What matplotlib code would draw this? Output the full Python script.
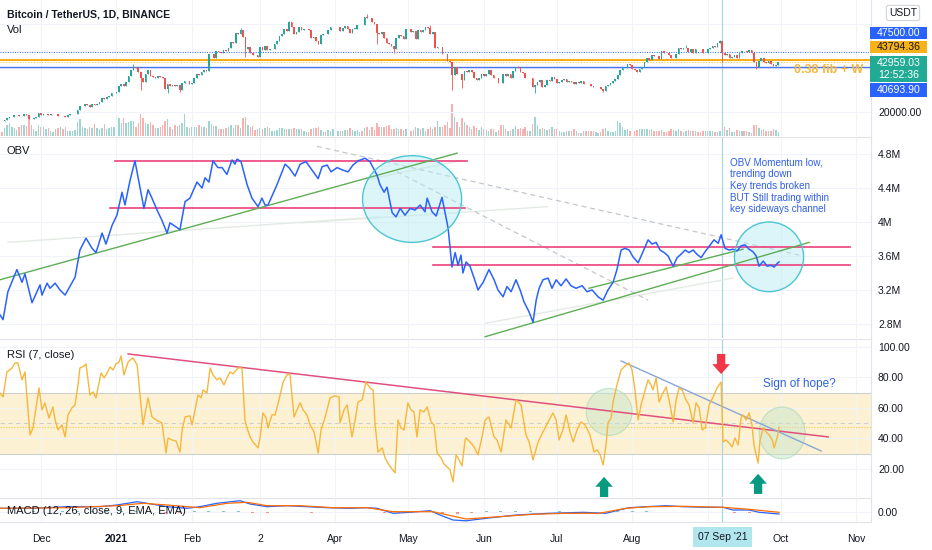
import numpy as np
import pandas as pd
import matplotlib
matplotlib.use("Agg")
import matplotlib.pyplot as plt
from matplotlib.patches import Ellipse, FancyArrow, Rectangle

plt.rcParams["font.family"] = ["Liberation Sans", "DejaVu Sans"]

# ── 가격 데이터 (BTCUSDT 일봉 종가, 2020-11-14 ~ 2021-09-30) ──
close_nov = [15970, 15960, 16720, 17650, 17800, 17820, 18660, 18700, 18420, 18370, 19150, 18720, 17150, 17140, 17720, 18180, 19700]
close_dec = [18790, 19200, 19420, 18650, 19150, 19360, 19170, 18320, 18550, 18250, 18040, 18800, 19170, 19270, 19430, 21350,
             22800, 23110, 23850, 23480, 22720, 23820, 23250, 23720, 24710, 26490, 26280, 27080, 27370, 28880, 28920]
close_jan = [29330, 32180, 33000, 31990, 33950, 36770, 39410, 40670, 40240, 38240, 35540, 34010, 37390, 39140, 36770, 36020,
             35820, 36630, 36020, 35550, 30830, 33000, 32100, 32280, 32270, 32520, 30430, 33470, 34320, 34320, 33090]
close_feb = [33530, 35510, 37670, 36900, 38290, 39190, 38800, 46380, 46430, 44850, 48010, 47410, 47230, 48590, 47910, 49130,
             52120, 51550, 55910, 55860, 57410, 54100, 48890, 49680, 47030, 46280, 46100, 45140]
close_mar = [49590, 48440, 50350, 48370, 48750, 48880, 50970, 52380, 54880, 55860, 57800, 57230, 61190, 59000, 55630, 56800,
             58870, 57650, 58030, 58100, 57350, 54080, 54340, 52300, 51290, 55030, 55820, 55780, 57630, 58730, 58740]
close_apr = [58720, 58970, 57060, 58200, 59130, 57990, 56000, 58090, 58140, 59770, 59860, 59850, 63580, 62960, 63160, 61330,
             60010, 56150, 55660, 56470, 53800, 51700, 51190, 50100, 49060, 54030, 55070, 54880, 53580, 57750]
close_may = [57830, 56630, 57200, 53240, 57500, 56430, 57380, 58930, 58280, 55860, 56750, 49500, 49690, 49890, 46760, 46430,
             43540, 42900, 36970, 40600, 37300, 37530, 34770, 38820, 38340, 39240, 38530, 35660, 34610, 35680, 37300]
close_jun = [36690, 37570, 39190, 36880, 35520, 35800, 33590, 33400, 37390, 36690, 37340, 35550, 39020, 40530, 40140, 38350,
             38090, 35820, 35480, 35600, 31610, 32510, 33680, 34660, 31590, 32280, 34700, 34490, 35910, 35040]
close_jul = [33520, 33810, 34670, 35290, 33690, 34220, 33880, 32880, 33820, 33520, 34260, 33090, 32730, 32820, 31880, 31380,
             31520, 31780, 30840, 29790, 32140, 32310, 33580, 34290, 35380, 37270, 39460, 40000, 40020, 42240, 41460]
close_aug = [39850, 39150, 38210, 39720, 40870, 42840, 44610, 43820, 46290, 45600, 45560, 44430, 47830, 47100, 47020, 45940,
             44690, 44720, 46760, 49340, 48870, 49290, 49530, 47710, 48970, 46840, 49070, 48900, 48810, 46990, 47170]
close_sep = [48850, 49280, 50000, 49940, 51770, 52660, 46860, 46070, 46370, 44840, 45160, 46030, 44960, 47110, 48140, 47760,
             47300, 48310, 47260, 42990, 40690, 43580, 44880, 42810, 42700, 43210, 42240, 41040, 41560, 42959.03]
first_open = 16300

wick_low = {"2021-01-11": 30420, "2021-01-22": 28850, "2021-01-27": 29240, "2021-02-23": 45000, "2021-04-18": 51000,
            "2021-04-25": 47050, "2021-05-19": 30000, "2021-05-23": 31100, "2021-06-22": 28800, "2021-07-20": 29280,
            "2021-09-07": 42830, "2021-09-21": 39600}
wick_high = {"2021-01-08": 41950, "2021-02-21": 58350, "2021-03-13": 61780, "2021-04-14": 64850, "2021-05-10": 59600,
             "2021-09-06": 52920, "2021-06-15": 41330, "2021-08-23": 50500}

# 거래량 (천 BTC)
vol_nov = [42, 38, 65, 90, 110, 80, 70, 50, 80, 95, 95, 85, 140, 90, 55, 45, 95]
vol_dec = [80, 78, 60, 70, 45, 35, 55, 70, 80, 60, 75, 40, 40, 45, 50, 115, 140, 75, 65, 60, 75, 70, 100, 70, 60, 65, 100, 60, 70, 80, 75]
vol_jan = [80, 150, 110, 150, 110, 120, 130, 130, 80, 110, 190, 150, 110, 100, 120, 90, 70, 70, 75, 95, 130, 140, 80, 55, 90, 85, 95, 110, 190, 75, 70]
vol_feb = [75, 75, 80, 90, 75, 75, 65, 130, 100, 85, 85, 60, 60, 55, 70, 80, 90, 65, 90, 95, 70, 150, 160, 90, 75, 85, 50, 60]
vol_mar = [70, 60, 65, 80, 70, 40, 40, 50, 65, 65, 60, 60, 60, 55, 70, 55, 60, 55, 45, 30, 35, 55, 65, 70, 80, 50, 30, 35, 50, 45, 60]
vol_apr = [55, 45, 45, 40, 50, 50, 70, 50, 45, 50, 35, 45, 70, 75, 50, 80, 50, 110, 75, 75, 80, 85, 95, 55, 60, 70, 55, 55, 50, 60]
vol_may = [35, 40, 50, 80, 70, 60, 65, 45, 55, 80, 60, 80, 130, 80, 75, 90, 120, 70, 270, 160, 120, 80, 150, 120, 90, 75, 60, 85, 65, 50, 75]
vol_jun = [60, 50, 45, 60, 55, 30, 50, 90, 95, 55, 45, 40, 55, 85, 60, 65, 55, 80, 45, 45, 100, 160, 95, 60, 65, 60, 50, 55, 75, 55]
vol_jul = [55, 45, 35, 30, 45, 40, 40, 55, 45, 25, 25, 40, 40, 40, 40, 40, 30, 25, 35, 55, 70, 45, 35, 30, 45, 125, 110, 80, 50, 60, 45]
vol_aug = [45, 45, 50, 55, 60, 60, 55, 50, 55, 45, 40, 45, 50, 35, 35, 45, 55, 50, 45, 55, 40, 30, 45, 50, 45, 40, 40, 30, 30, 45, 40]
vol_sep = [45, 45, 45, 30, 30, 45, 105, 75, 50, 65, 30, 30, 50, 45, 45, 40, 40, 30, 25, 90, 95, 65, 50, 60, 45, 45, 45, 60, 50, 35]

# OBV (일 = 2020-12-01 기준 경과일, 값 = 백만)
obv_day = [-16.9, -15.6, -13.6, -9.9, -7.8, -6.6, -3.7, -0.4, 0.4, 2.5, 3.7, 5.8, 7.8, 9.9, 14.0, 16.0, 18.5, 21.0, 22.6,
           25.1, 26.7, 29.2, 31.2, 33.3, 34.5, 36.6, 38.6, 42.3, 44.0, 45.6, 47.7, 49.7, 51.8, 53.0, 55.1, 57.1, 59.2, 61.2,
           64.1, 66.2, 67.4, 69.0, 70.7, 72.7, 74.4, 76.4, 78.5, 79.7, 80.6, 82.2, 84.7, 86.7, 89.2, 90.8, 92.1, 93.3, 97.0,
           100.3, 101.9, 104.4, 106.5, 108.9, 111.4, 113.9, 115.5, 117.6, 119.2, 121.7, 124.1, 126.2, 128.2, 130.3, 133.2,
           135.2, 138.1, 139.3, 141.0, 142.2, 144.3, 145.9, 147.6, 149.6, 151.7, 153.7, 155.8, 157.8, 158.7, 160.7, 162.4,
           164.8, 167.3, 168.9, 170.2, 171.4, 172.6, 173.4, 174.7, 176.3, 178.0, 179.6, 181.7, 184.1, 186.2, 187.8, 189.9,
           191.5, 193.2, 195.2, 196.9, 198.5, 200.6, 202.2, 203.5, 204.7, 206.3, 208.4, 210.0, 211.7, 213.7, 215.8, 217.8,
           219.9, 222.4, 224.4, 226.5, 228.9, 231.0, 233.0, 235.1, 236.7, 238.4, 240.0, 241.7, 243.3, 245.4, 247.4, 249.5,
           251.1, 252.8, 254.4, 256.1, 257.7, 259.8, 261.4, 263.0, 264.7, 266.3, 268.0, 269.6, 271.3, 272.9, 275.0, 276.6,
           278.3, 279.5, 281.1, 282.8, 284.4, 286.1, 287.7, 289.3, 291.0, 292.6, 293.9, 295.1, 296.8, 298.4, 300.0, 301.3,
           302.5, 303.3]
obv_val = [2.91, 2.85, 3.18, 3.44, 3.29, 3.39, 3.05, 3.26, 3.14, 3.28, 3.22, 3.28, 3.20, 3.14, 3.35, 3.67, 3.81, 3.69, 3.64,
           3.87, 3.74, 3.96, 4.08, 4.35, 4.20, 4.49, 4.72, 4.16, 4.38, 4.28, 4.14, 4.02, 3.87, 3.99, 3.95, 3.91, 4.24, 4.28,
           4.47, 4.40, 4.52, 4.47, 4.72, 4.64, 4.64, 4.56, 4.73, 4.68, 4.74, 4.71, 4.44, 4.28, 4.18, 4.28, 4.20, 4.20, 4.44,
           4.68, 4.64, 4.54, 4.68, 4.71, 4.61, 4.51, 4.65, 4.67, 4.59, 4.64, 4.61, 4.59, 4.67, 4.72, 4.75,
           4.71, 4.55, 4.44, 4.35, 4.41, 4.11, 4.06, 4.16, 4.08, 4.16, 4.14, 4.20, 4.12, 4.28, 4.12, 4.07,
           4.29, 3.93, 3.47, 3.64, 3.49, 3.61, 3.40, 3.53, 3.48, 3.34, 3.20, 3.29, 3.44, 3.32, 3.20, 3.12,
           3.24, 3.18, 3.32, 3.20, 3.06, 2.94, 2.82, 3.08, 3.22, 3.32, 3.34, 3.22, 3.32, 3.25, 3.33, 3.25,
           3.22, 3.25, 3.18, 3.20, 3.12, 3.08, 3.20, 3.29, 3.44, 3.67, 3.69, 3.67, 3.59, 3.52, 3.65, 3.79,
           3.74, 3.76, 3.67, 3.64, 3.60, 3.48, 3.58, 3.62, 3.67, 3.64, 3.67, 3.62, 3.58, 3.65, 3.73, 3.79,
           3.75, 3.85, 3.69, 3.67, 3.68, 3.66, 3.72, 3.73, 3.68, 3.65, 3.60, 3.48, 3.54, 3.48, 3.49, 3.47,
           3.51, 3.53]

# RSI (7, close)
rsi_day = [-16.9, -15.6, -14.0, -11.9, -10.7, -9.5, -7.8, -6.6, -4.5, -3.3, -2.5, -0.8, 0.4, 1.6, 3.3, 4.9, 5.8, 7.0, 8.6,
           9.9, 11.1, 12.7, 14.0, 15.2, 16.0, 17.7, 18.5, 20.1, 21.4, 22.6, 24.7, 25.9, 26.7, 28.4, 29.6, 30.8, 32.1, 32.9,
           34.1, 35.8, 37.8, 39.5, 40.7, 41.9, 44.0, 45.6, 47.3, 48.9, 49.7, 51.4, 52.2, 53.8, 55.5, 57.1, 58.0, 59.2, 61.2,
           62.1, 63.3, 64.5, 65.8, 66.6, 68.2, 69.5, 70.7, 72.3, 73.6, 75.2, 76.4, 77.7, 78.9, 81.0, 82.6, 83.8, 84.7, 85.9,
           87.1, 89.2, 90.0, 91.2, 92.5, 93.3, 94.9, 96.2, 97.8, 99.5, 101.1, 102.3, 104.0, 105.2, 106.5, 107.7, 109.3,
           110.6, 112.2, 113.9, 115.1, 116.7, 118.8, 120.8, 122.5, 122.9, 124.5, 125.8, 127.8, 129.1, 130.3, 131.9, 133.6,
           135.2, 136.5, 137.3, 138.5, 140.2, 141.4, 143.0, 145.5, 146.7, 147.9, 149.2, 150.8, 152.1, 153.3, 154.5, 155.8,
           157.4, 158.7, 160.3, 161.5, 162.8, 164.4, 165.6, 167.3, 168.1, 169.3, 170.6, 171.8, 173.0, 174.3, 174.7, 176.7,
           178.0, 179.6, 181.7, 182.5, 184.1, 186.2, 187.4, 189.1, 191.1, 192.4, 193.2, 195.2, 197.3, 199.3, 200.6, 202.2,
           204.3, 206.3, 208.4, 210.4, 211.7, 212.9, 214.5, 215.8, 217.4, 218.7, 220.3, 221.9, 223.6, 225.6, 227.3, 228.5,
           229.8, 231.0, 232.2, 233.0, 234.3, 235.1, 236.7, 238.4, 240.0, 241.7, 242.9, 244.1, 245.4, 246.6, 248.3, 249.5,
           250.7, 251.5, 252.8, 254.0, 255.2, 256.9, 258.1, 259.8, 261.0, 262.2, 263.5, 265.1, 266.3, 268.0, 269.2, 270.5,
           271.7, 273.0, 274.6, 276.2, 277.8, 279.5, 280.3, 281.5, 282.8, 284.0, 285.2, 286.5, 287.7, 288.5, 289.8, 291.0,
           292.2, 293.0, 293.9, 294.7, 295.5, 296.8, 298.0, 299.2, 300.5, 301.3, 302.5, 303.3]
rsi_val = [69.8, 67.2, 83.6, 86.2, 89.5, 89.5, 78.4, 83.6, 42.3, 46.9, 55.4, 73.1, 58.7, 63.3, 53.4, 60.7, 52.1, 45.6, 48.9,
           41.0, 55.4, 60.0, 62.0, 75.1, 86.2, 87.5, 88.9, 68.5, 70.5, 66.6, 83.0, 79.7, 81.6, 86.9, 84.9, 88.9, 90.2, 94.1,
           81.6, 90.2, 92.8, 88.2, 68.5, 48.9, 66.6, 54.1, 52.1, 50.8, 50.2, 30.5, 40.3, 39.0, 38.4, 31.1, 45.6, 54.1, 54.8,
           48.9, 58.7, 68.5, 66.6, 71.8, 69.8, 86.2, 81.6, 78.4, 79.7, 75.1, 79.7, 83.6, 82.3, 86.2, 86.2, 52.1, 46.9, 41.0,
           37.7, 33.8, 40.3, 56.7, 53.4, 46.9, 55.4, 55.4, 65.2, 77.0, 81.6, 82.3, 54.1, 58.7, 63.3, 58.7, 55.4,
           48.9, 44.3, 30.5, 45.6, 53.4, 66.6, 67.9, 67.2, 50.2, 58.7, 62.0, 41.0, 52.1, 63.9, 65.2, 77.0,
           73.1, 71.8, 48.9, 31.1, 33.8, 27.2, 22.6, 17.4, 52.1, 46.9, 45.6, 63.3, 58.7, 57.4, 41.0, 58.7,
           57.4, 60.7, 50.8, 48.9, 30.5, 27.2, 23.3, 20.7, 19.3, 11.5, 29.2, 25.9, 22.0, 39.0, 40.3, 37.0,
           34.4, 29.2, 44.3, 52.1, 54.1, 41.0, 39.0, 31.1, 52.1, 48.9, 46.9, 65.2, 62.0, 42.3, 37.7, 25.9,
           37.7, 44.3, 50.8, 56.7, 52.1, 39.0, 45.6, 55.4, 44.3, 37.7, 45.6, 50.8, 48.9, 42.3, 31.1, 32.5,
           29.2, 22.6, 35.7, 50.2, 53.4, 63.9, 75.1, 84.9, 87.5, 89.5, 84.9, 71.8, 52.1, 62.0, 71.8, 78.4,
           75.1, 71.8, 79.7, 63.9, 68.5, 73.8, 65.2, 50.8, 65.2, 73.1, 71.8, 65.2, 62.0, 50.2, 63.3, 60.0,
           45.6, 46.9, 62.0, 67.2, 73.1, 77.0, 37.7, 39.0, 37.0, 34.4, 40.3, 35.7, 53.4, 55.4, 52.1, 56.7,
           48.9, 35.7, 29.2, 23.9, 39.0, 46.9, 44.3, 42.3, 39.0, 33.8, 40.3, 47.5]

# MACD (12, 26, close, 9)
macd_day = [-16.9, -3.3, 10.7, 24.2, 31.2, 39.5, 43.6, 51.8, 60.0, 65.3, 72.3, 81.8, 85.9, 92.9, 101.1, 109.3, 117.6, 127.0,
            134.0, 138.1, 144.7, 151.7, 159.9, 164.0, 169.3, 174.7, 182.9, 195.2, 208.8, 222.8, 232.2, 237.6, 241.7, 248.7,
            256.9, 263.9, 273.3, 280.3, 284.4, 291.0, 295.1, 303.3]
macd_val = [1850, 1850, 2650, 2650, 3500, 5150, 4350, 2650, 1850, 2650, 4350, 5650, 4000, 2650, 3150, 2650, 2150, 1850,
            2150, 1850, -650, -150, 650, -1500, -4000, -4400, -3150, -1500, -650, -150, -650, 1000, 2150, 2650,
            3150, 2650, 2350, 2350, 1000, 1000, -150, -1000]
signal_day = [-16.9, 10.7, 31.2, 41.9, 51.8, 65.3, 76.4, 84.7, 92.9, 106.5, 120.0, 134.0, 144.7, 161.1, 174.7, 188.3,
              202.2, 215.8, 229.4, 240.4, 249.9, 263.9, 280.3, 291.0, 303.3]
signal_val = [1850, 2150, 3150, 4350, 3500, 2150, 4350, 4850, 3150, 3150, 2150, 2150, 150, 150, -3500, -2350,
              -1150, -650, -650, 1850, 2650, 2850, 2350, 1350, -150]
hist_day = list(range(-15, 304, 6))
hist_val = [0, 200, 300, 200, 300, 500, 400, 300, 500, 700, -200, -600, -500, 300, 600, 400, 600, -500, -500, 200,
            100, -300, -200, 200, -100, 100, -400, -600, 300, 400, -800, -1200, -600, 300, 500, 500, 400, 200, 300, 100,
            -100, -300, 600, 700, 300, 200, -100, -200, 100, 200, -500, -300, -300, -200]

# 레벨 / 드로잉
price_levels = {"fib": 43794.36, "top": 47500.00, "low": 40693.90}
obv_pink = [((30.4, 4.72), (175.1, 4.72)), ((28.4, 4.16), (174.3, 4.16)),
            ((161.1, 3.71), (332.5, 3.71)), ((161.1, 3.49), (332.5, 3.49))]
obv_green = [((-16.9, 3.32), (171.0, 4.81)), ((182.5, 2.65), (315.7, 3.76)), ((225.2, 3.22), (288.5, 3.68))]
obv_dashed = [((113.4, 4.89), (311.6, 3.61)), ((146.3, 4.59), (249.5, 3.08))]
obv_faint = [((-13.6, 3.76), (139.3, 4.06)), ((106.5, 3.99), (208.0, 4.18)), ((182.9, 2.81), (284.4, 3.34)),
             ((134.0, 4.50), (172.0, 4.72))]
obv_circles = [(152.5, 4.27, 40.7, 1.02), (299.2, 3.59, 28.4, 0.82)]
rsi_pink = ((35.8, 95.4), (323.5, 41.0))
rsi_blue = ((238.4, 90.8), (320.6, 31.8))
rsi_circles = [(233.5, 57.4, 18.9, 30.8), (304.6, 43.6, 18.9, 34.0)]
up_arrows = [(231.4, 1.6), (294.7, 3.6)]
down_arrows = [(279.5, 95.4)]
cursor_day = 280

month_days = [0, 31, 62, 90, 121, 151, 182, 212, 243, 274, 304, 335]
month_labels = ["Dec", "2021", "Feb", "2", "Apr", "May", "Jun", "Jul", "Aug", "", "Oct", "Nov"]

# ── 그리기 ──
W, H, PLOT_W = 932, 550, 871
TXT = "#131722"
GRID = "#f0f3fa"
SEP = "#e0e3eb"
UP, DN = "#26a69a", "#ef5350"
XL = (-16.85, 341.1)


def rect(top, bottom):
    return [0, 1 - bottom / H, PLOT_W / W, (bottom - top) / H]


def style(ax, yt, ylab, top_sep=True):
    ax.set_xlim(*XL)
    ax.set_xticks(month_days)
    ax.tick_params(axis="x", length=0, labelbottom=False)
    ax.yaxis.tick_right()
    ax.set_yticks(yt)
    ax.set_yticklabels(ylab)
    ax.tick_params(axis="y", length=0, pad=5, labelsize=7.5, colors=TXT)
    ax.grid(True, color=GRID, lw=0.8)
    ax.set_axisbelow(True)
    for s in ax.spines.values():
        s.set_visible(False)
    ax.spines["right"].set_visible(True)
    ax.spines["right"].set_color(SEP)
    if top_sep:
        ax.spines["top"].set_visible(True)
        ax.spines["top"].set_color(SEP)
    ax.axvline(cursor_day, color="#9fd9e6", lw=0.8, zorder=1)


def seg(ax, pts, **kw):
    (x0, y0), (x1, y1) = pts
    ax.plot([x0, x1], [y0, y1], **kw)


fig = plt.figure(figsize=(W / 100, H / 100), dpi=100, facecolor="white")

closes = np.array(close_nov + close_dec + close_jan + close_feb + close_mar + close_apr +
                  close_may + close_jun + close_jul + close_aug + close_sep, dtype=float)
vols = np.array(vol_nov + vol_dec + vol_jan + vol_feb + vol_mar + vol_apr +
                vol_may + vol_jun + vol_jul + vol_aug + vol_sep, dtype=float)
dates = pd.date_range("2020-11-14", periods=len(closes), freq="D")
days = (dates - pd.Timestamp("2020-12-01")).days.values
opens = np.concatenate([[first_open], closes[:-1]])
highs = np.maximum(opens, closes)
lows = np.minimum(opens, closes)
for d, v in wick_low.items():
    lows[dates.get_loc(pd.Timestamp(d))] = v
for d, v in wick_high.items():
    highs[dates.get_loc(pd.Timestamp(d))] = v
cols = np.where(closes >= opens, UP, DN)

# 거래량 (가격 패널 아래에 겹침)
ax_v = fig.add_axes(rect(0, 136))
ax_v.bar(days, vols, width=0.6, color=cols, alpha=0.45, lw=0)
ax_v.set_xlim(*XL)
ax_v.set_ylim(0, 1150)
ax_v.axis("off")

# 가격
ax_p = fig.add_axes(rect(0, 136))
ax_p.patch.set_alpha(0)
style(ax_p, [20000, 40000, 60000], ["20000.00", "", ""], top_sep=False)
ax_p.set_ylim(9318, 71136)
ax_p.vlines(days, lows, highs, colors=cols, lw=0.6, zorder=3)
ax_p.bar(days, np.maximum(np.abs(closes - opens), 120), bottom=np.minimum(opens, closes),
         width=0.7, color=cols, lw=0, zorder=4)
ax_p.axhline(price_levels["top"], color="#2962ff", lw=0.7, ls=(0, (1, 1.5)), zorder=2)
ax_p.axhline(price_levels["fib"], color="#f7a600", lw=1.3, zorder=2)
ax_p.axhline(closes[-1], color="#f7c948", lw=0.8, ls=(0, (1, 1.5)), zorder=2)
ax_p.axhline(price_levels["low"], color="#4a74f0", lw=1.0, zorder=2)
ax_p.text(0.008, 0.895, "Bitcoin / TetherUS, 1D, BINANCE", transform=ax_p.transAxes,
          fontsize=7.6, fontweight="bold", color=TXT, va="center")
ax_p.text(0.008, 0.78, "Vol", transform=ax_p.transAxes, fontsize=8, color=TXT, va="center")
ax_p.text(309.5, 39300, "0.38 fib + W", fontsize=9, fontweight="bold", color="#f5b83d",
          va="center", ha="left", zorder=6, clip_on=False)

# OBV
ax_o = fig.add_axes(rect(137, 338))
style(ax_o, [2.8, 3.2, 3.6, 4.0, 4.4, 4.8], ["2.8M", "3.2M", "3.6M", "4M", "4.4M", "4.8M"])
ax_o.set_ylim(2.635, 5.0)
for p in obv_faint:
    seg(ax_o, p, color="#e4ebe4", lw=1.0, zorder=2)
for p in obv_dashed:
    seg(ax_o, p, color="#c3c6cd", lw=0.9, ls=(0, (4, 3)), zorder=2)
for cx, cy, w, h in obv_circles:
    ax_o.add_patch(Ellipse((cx, cy), w, h, facecolor="#b2ebf2", alpha=0.45, edgecolor="none", zorder=2))
    ax_o.add_patch(Ellipse((cx, cy), w, h, facecolor="none", edgecolor="#4cc6d2", lw=1.0, zorder=5))
for p in obv_pink:
    seg(ax_o, p, color="#ec407a", lw=1.2, zorder=3)
for p in obv_green:
    seg(ax_o, p, color="#5fad56", lw=1.0, zorder=3)
ax_o.plot(obv_day, obv_val, color="#2962ff", lw=1.1, zorder=4)
ax_o.text(0.008, 0.93, "OBV", transform=ax_o.transAxes, fontsize=8, color=TXT, va="center")
ax_o.text(283.2, 4.76, "OBV Momentum low,\ntrending down\nKey trends broken\nBUT Still trading within\nkey sideways channel",
          fontsize=7.1, color="#2f5fe6", va="top", ha="left", linespacing=1.22, zorder=6)

# RSI
ax_r = fig.add_axes(rect(339, 497))
style(ax_r, [20, 40, 60, 80, 100], ["20.00", "40.00", "60.00", "80.00", "100.00"])
ax_r.set_ylim(1.6, 105.2)
ax_r.axhspan(30, 70, color="#fdf1d3", zorder=0.5, lw=0)
ax_r.axhline(70, color="#cfcfcf", lw=0.8, zorder=1)
ax_r.axhline(30, color="#cfcfcf", lw=0.8, zorder=1)
ax_r.axhline(50, color="#cfcfcf", lw=0.8, ls=(0, (4, 3)), zorder=1)
ax_r.axhline(rsi_val[-1], color="#f7c948", lw=0.8, ls=(0, (1, 1.5)), zorder=1)
for cx, cy, w, h in rsi_circles:
    ax_r.add_patch(Ellipse((cx, cy), w, h, facecolor="#c8e6c9", alpha=0.5, edgecolor="#8fd3b0", lw=0.8, zorder=2))
seg(ax_r, rsi_pink, color="#e0507e", lw=1.1, zorder=3)
seg(ax_r, rsi_blue, color="#8aa6d6", lw=1.0, zorder=3)
ax_r.plot(rsi_day, rsi_val, color="#f6b73c", lw=1.0, zorder=4)
for x, y in up_arrows:
    ax_r.add_patch(FancyArrow(x, y, 0, 13.2, width=3.4, head_width=7.2, head_length=6.5,
                              length_includes_head=True, color="#089981", lw=0, zorder=6))
for x, y in down_arrows:
    ax_r.add_patch(FancyArrow(x, y, 0, -13.2, width=3.4, head_width=7.2, head_length=6.5,
                              length_includes_head=True, color="#f23645", lw=0, zorder=6))
ax_r.text(0.008, 0.9, "RSI (7, close)", transform=ax_r.transAxes, fontsize=8, color=TXT, va="center")
ax_r.text(296.8, 75.7, "Sign of hope?", fontsize=8.5, color="#2f5fe6", va="center", ha="left", zorder=6)

# MACD
ax_m = fig.add_axes(rect(498, 522))
style(ax_m, [0], ["0.00"])
ax_m.set_ylim(-5000, 7000)
ax_m.spines["bottom"].set_visible(True)
ax_m.spines["bottom"].set_color(SEP)
ax_m.bar(hist_day, hist_val, width=1.2, color=np.where(np.array(hist_val) >= 0, "#26a69a", "#ef5350"),
         alpha=0.6, lw=0, zorder=2)
ax_m.plot(macd_day, macd_val, color="#2962ff", lw=0.9, zorder=3)
ax_m.plot(signal_day, signal_val, color="#ff6d00", lw=0.9, zorder=3)
ax_m.text(0.008, 0.45, "MACD (12, 26, close, 9, EMA, EMA)", transform=ax_m.transAxes,
          fontsize=8, color=TXT, va="center", zorder=6)
ax_m.tick_params(axis="x", labelbottom=True, pad=9, labelsize=7.5, colors=TXT)
ax_m.set_xticklabels(month_labels)
ax_m.get_xticklabels()[1].set_fontweight("bold")
ax_m.text(cursor_day, -0.62, "07 Sep '21", transform=ax_m.get_xaxis_transform(), ha="center", va="center",
          fontsize=7.5, color=TXT, bbox=dict(boxstyle="square,pad=0.45", fc="#b2e6ee", ec="none"))

# 오른쪽 가격 태그 (박스: 위쪽 y, 높이 픽셀)
tags = [(27, 12, "47500.00", "#2962ff", "white"), (41, 12, "43794.36", "#f7b21a", TXT),
        (56, 26, "42959.03\n12:52:36", "#22ab94", "white"), (83, 14, "40693.90", "#2962ff", "white")]
for top, hgt, s, fc, tc in tags:
    fig.add_artist(Rectangle((870 / W, 1 - (top + hgt) / H), 57 / W, hgt / H, transform=fig.transFigure,
                             facecolor=fc, edgecolor="none", zorder=5))
    fig.text(898.5 / W, 1 - (top + hgt / 2) / H, s, ha="center", va="center", fontsize=7.6, color=tc,
             linespacing=1.3, zorder=6)
fig.text(903 / W, 1 - 13 / H, "USDT", ha="center", va="center", fontsize=7.5, color=TXT,
         bbox=dict(boxstyle="round,pad=0.25", fc="white", ec="#d1d4dc", lw=0.8))

fig.savefig("out.png", dpi=100, facecolor="white")
